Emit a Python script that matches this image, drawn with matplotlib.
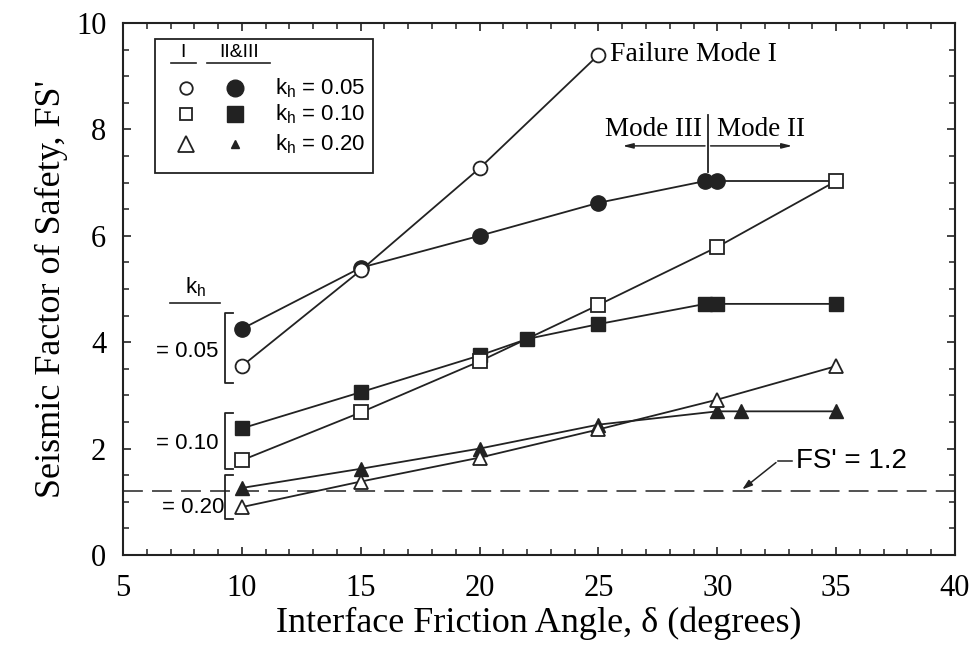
import matplotlib
matplotlib.use("Agg")
import matplotlib.pyplot as plt
from matplotlib.patches import Rectangle
from matplotlib.ticker import MultipleLocator

# Mode I (open markers)
x_c_open = [10, 15, 20, 25]
y_c_open = [3.55, 5.35, 7.27, 9.4]
x_s_open = [10, 15, 20, 25, 30, 35]
y_s_open = [1.78, 2.68, 3.64, 4.7, 5.79, 7.03]
x_t_open = [10, 15, 20, 25, 30, 35]
y_t_open = [0.9, 1.38, 1.83, 2.36, 2.92, 3.55]

# Modes II & III (filled markers)
x_c_fill = [10, 15, 20, 25, 29.5, 30, 35]
y_c_fill = [4.25, 5.4, 6.0, 6.62, 7.03, 7.03, 7.03]
x_s_fill = [10, 15, 20, 22, 25, 29.5, 30, 35]
y_s_fill = [2.38, 3.06, 3.75, 4.06, 4.34, 4.72, 4.72, 4.72]
x_t_fill = [10, 15, 20, 25, 30, 31, 35]
y_t_fill = [1.26, 1.62, 2.0, 2.45, 2.7, 2.7, 2.7]

fs_limit = 1.2

serif = "Liberation Serif"
sans = "Liberation Sans"
ink = "#222222"

fig = plt.figure(figsize=(9.74, 6.5), dpi=100)
ax = fig.add_axes([0.1263, 0.1462, 0.8542, 0.8184])

lw = 1.3
mew = 1.3
# filled series first, open on top
ax.plot(x_c_fill, y_c_fill, color=ink, lw=lw, marker="o", ms=11, mfc=ink, mec=ink,
        markevery=list(range(6)), zorder=3)
ax.plot(x_s_fill, y_s_fill, color=ink, lw=lw, marker="s", ms=10, mfc=ink, mec=ink, zorder=3)
ax.plot(x_t_fill, y_t_fill, color=ink, lw=lw, marker="^", ms=10, mfc=ink, mec=ink, zorder=3)
ax.plot(x_c_open, y_c_open, color=ink, lw=lw, marker="o", ms=10, mfc="white", mec=ink, mew=mew, zorder=4)
ax.plot(x_s_open, y_s_open, color=ink, lw=lw, marker="s", ms=9.5, mfc="white", mec=ink, mew=mew, zorder=4)
ax.plot(x_t_open, y_t_open, color=ink, lw=lw, marker="^", ms=9.5, mfc="white", mec=ink, mew=mew, zorder=4)

ax.axhline(fs_limit, color=ink, lw=1.1, dashes=(13, 6), zorder=2)

ax.set_xlim(5, 40)
ax.set_ylim(0, 10)
ax.xaxis.set_major_locator(MultipleLocator(5))
ax.xaxis.set_minor_locator(MultipleLocator(1))
ax.yaxis.set_major_locator(MultipleLocator(2))
ax.yaxis.set_minor_locator(MultipleLocator(0.5))
ax.tick_params(which="both", direction="in", top=True, right=True, color=ink)
ax.tick_params(which="major", length=6, width=1.2, labelsize=22)
ax.tick_params(axis="x", which="major", pad=14)
ax.tick_params(axis="y", which="major", pad=12)
ax.tick_params(which="minor", length=4, width=1.1)
for lab in ax.get_xticklabels() + ax.get_yticklabels():
    lab.set_fontfamily(serif)
for sp in ax.spines.values():
    sp.set_linewidth(1.5)
    sp.set_color(ink)

ax.set_xlabel("Interface Friction Angle, δ (degrees)", fontfamily=serif, fontsize=26, labelpad=2)
ax.set_ylabel("Seismic Factor of Safety, FS'", fontfamily=serif, fontsize=26, labelpad=6)

# Failure mode labels
ax.text(25.5, 9.4, "Failure Mode I", fontfamily=serif, fontsize=20, va="center", ha="left")
ax.plot([29.6, 29.6], [7.2, 8.27], color=ink, lw=1.3)
for xe in (25.9, 33.27):
    ax.annotate("", xy=(xe, 7.69), xytext=(29.6, 7.69),
                arrowprops=dict(arrowstyle="-|>,head_length=0.6,head_width=0.15", color=ink, lw=1.1))
ax.text(29.35, 8.0, "Mode III", fontfamily=serif, fontsize=19.5, va="center", ha="right")
ax.text(30.0, 8.0, "Mode II", fontfamily=serif, fontsize=19.5, va="center", ha="left")

# FS' = 1.2 annotation
ax.annotate("", xy=(30.96, fs_limit), xytext=(32.56, 1.77),
            arrowprops=dict(arrowstyle="-|>,head_length=0.6,head_width=0.2", color=ink, lw=1.1))
ax.plot([32.56, 33.15], [1.77, 1.77], color=ink, lw=1.1)
ax.text(33.3, 1.77, "FS' = 1.2", fontfamily=sans, fontsize=20, va="center", ha="left")

# k_h brackets on the left
ax.text(8.05, 5.04, "k$_\\mathregular{h}$", fontfamily=sans, fontsize=16, ha="center", va="center")
ax.plot([6.98, 9.08], [4.74, 4.74], color=ink, lw=1.2)
brackets = [(4.55, 3.23, 3.83, "= 0.05"), (2.67, 1.62, 2.1, "= 0.10"), (1.5, 0.68, 0.9, "= 0.20")]
for top, bot, yt, lab in brackets:
    ax.plot([9.63, 9.29, 9.29, 9.63], [top, top, bot, bot], color=ink, lw=1.3, clip_on=False)
    ax.text(9.25 if lab == "= 0.20" else 9.0, yt, lab, fontfamily=sans, fontsize=16,
            ha="right", va="center")

# legend box drawn by hand
tr = ax.transAxes
ax.add_patch(Rectangle((0.0385, 0.718), 0.262, 0.252, transform=tr, fill=False,
                       ec=ink, lw=1.3, zorder=5))
ax.text(0.072, 0.944, "I", transform=tr, fontfamily=sans, fontsize=14, ha="center", va="center")
ax.text(0.139, 0.944, "II&III", transform=tr, fontfamily=sans, fontsize=14, ha="center", va="center")
ax.plot([0.058, 0.088], [0.925, 0.925], transform=tr, color=ink, lw=1.2)
ax.plot([0.101, 0.177], [0.925, 0.925], transform=tr, color=ink, lw=1.2)
rows = [(0.878, "o", 9, "o", 12, "0.05"), (0.829, "s", 9, "s", 11, "0.10"),
        (0.7726, "^", 12, "^", 6, "0.20")]
for yr, m1, s1, m2, s2, kv in rows:
    ax.plot([0.0757], [yr], transform=tr, marker=m1, ms=s1, mfc="white", mec=ink, mew=1.3, ls="none")
    ax.plot([0.1346], [yr], transform=tr, marker=m2, ms=s2, mfc=ink, mec=ink, ls="none")
    ax.text(0.183, yr, "k$_\\mathregular{h}$ = " + kv, transform=tr, fontfamily=sans,
            fontsize=16, ha="left", va="center")

fig.savefig("out.png", dpi=100)
